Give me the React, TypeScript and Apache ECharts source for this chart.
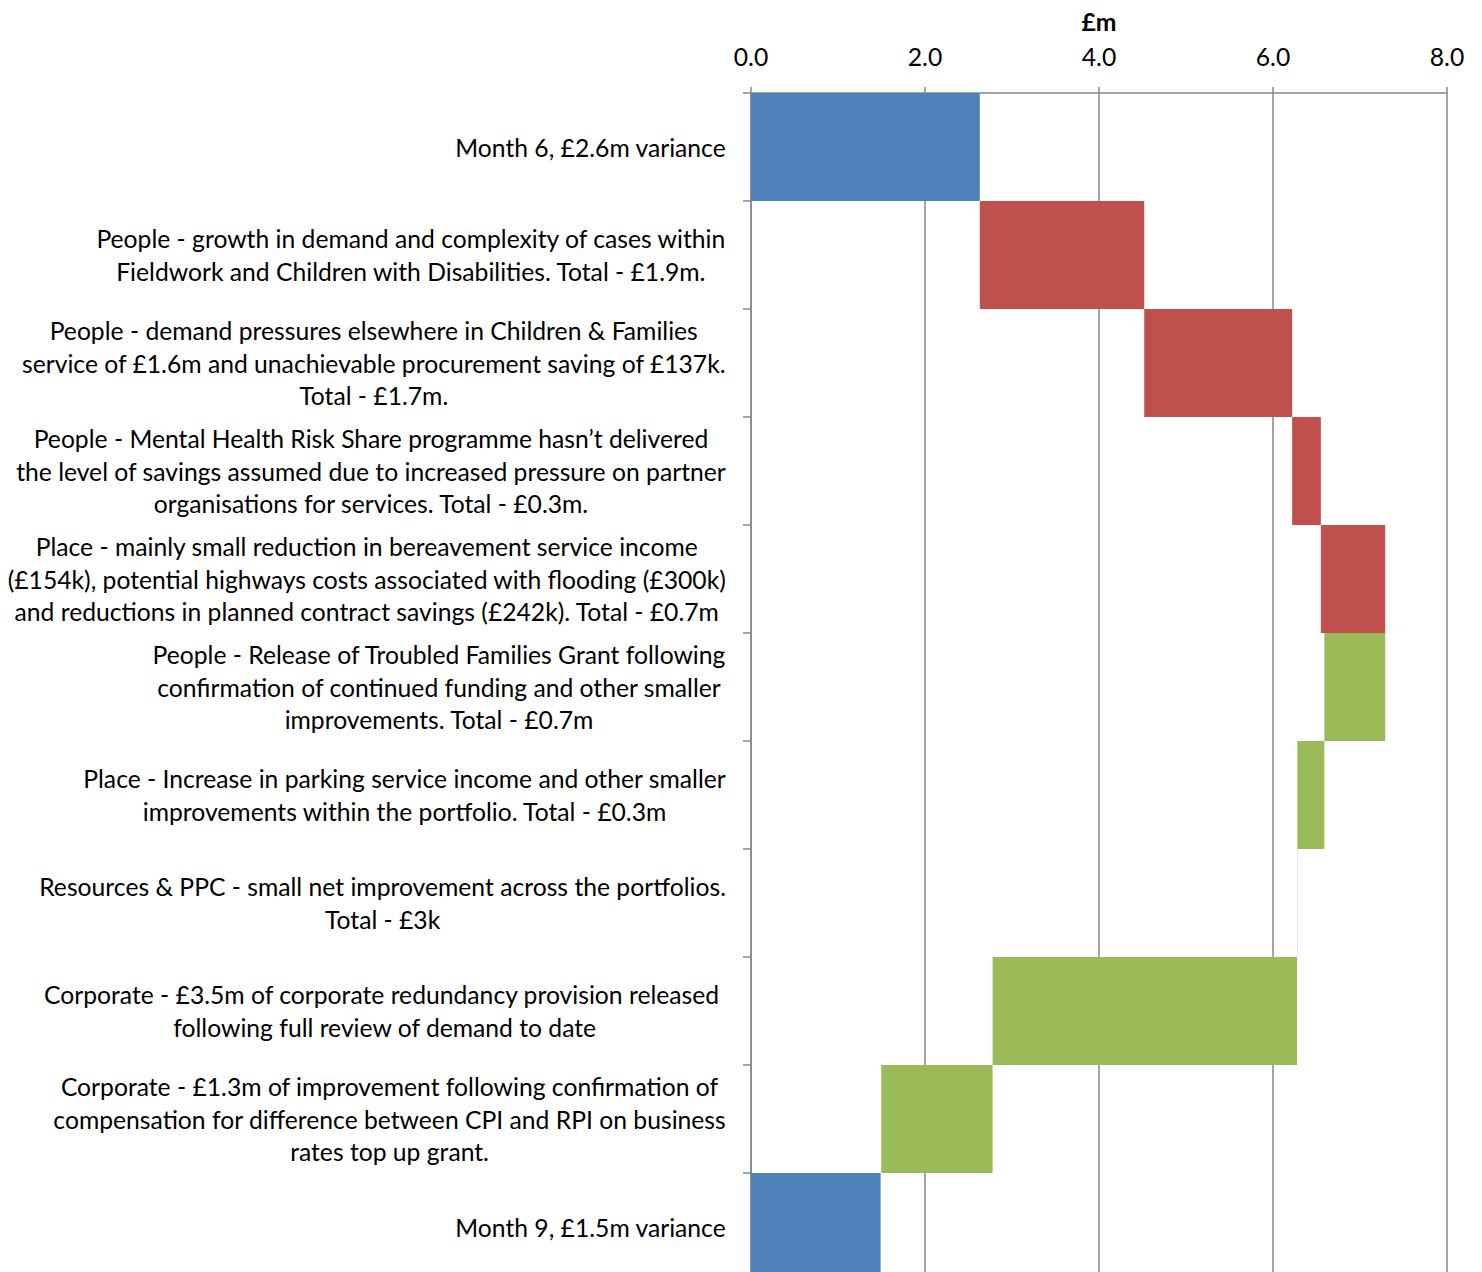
import { useEffect, useRef } from "react";
import * as echarts from "echarts";

// Budget variance bridge, Month 6 to Month 9 (£m)
const categories = [
  "Month 6, £2.6m variance",
  "People - growth in demand and complexity of cases within\nFieldwork and Children with Disabilities. Total - £1.9m.",
  "People - demand pressures elsewhere in Children & Families\nservice of £1.6m and unachievable procurement saving of £137k.\nTotal - £1.7m.",
  "People - Mental Health Risk Share programme hasn’t delivered\nthe level of savings assumed due to increased pressure on partner\norganisations for services. Total - £0.3m.",
  "Place - mainly small reduction in bereavement service income\n(£154k), potential highways costs associated with flooding (£300k)\nand reductions in planned contract savings (£242k). Total - £0.7m",
  "People - Release of Troubled Families Grant following\nconfirmation of continued funding and other smaller\nimprovements. Total - £0.7m",
  "Place - Increase in parking service income and other smaller\nimprovements within the portfolio. Total - £0.3m",
  "Resources & PPC - small net improvement across the portfolios.\nTotal - £3k",
  "Corporate - £3.5m of corporate redundancy provision released \nfollowing full review of demand to date",
  "Corporate - £1.3m of improvement following confirmation of\ncompensation for difference between CPI and RPI on business\nrates top up grant.",
  "Month 9, £1.5m variance",
];

const openingVariance = 2.63;
// pressures (positive) and improvements (negative), in category order
const movements = [1.89, 1.7, 0.33, 0.74, -0.7, -0.31, -0.003, -3.5, -1.28];
const closingVariance = 1.49;

const FONT = "Lato, 'Open Sans', sans-serif";
const FONT_SIZE = 24.7;
const AXIS_GREY = "#868686";

type Cell = number | "-";

function buildSeriesData() {
  const base: Cell[] = [];
  const total: Cell[] = [];
  const up: Cell[] = [];
  const down: Cell[] = [];

  base.push(0);
  total.push(openingVariance);
  up.push("-");
  down.push("-");

  let running = openingVariance;
  movements.forEach((m) => {
    const end = running + m;
    base.push(Math.min(running, end));
    total.push("-");
    if (m >= 0) {
      up.push(m);
      down.push("-");
    } else {
      up.push("-");
      down.push(-m);
    }
    running = end;
  });

  base.push(0);
  total.push(closingVariance);
  up.push("-");
  down.push("-");

  return { base, total, up, down };
}

export default function App() {
  const ref = useRef<HTMLDivElement | null>(null);

  useEffect(() => {
    if (!ref.current) return;
    const chart = echarts.init(ref.current, undefined, { renderer: "svg" });
    const { base, total, up, down } = buildSeriesData();

    const barCommon = {
      type: "bar" as const,
      stack: "bridge",
      barCategoryGap: "0%",
      silent: true,
    };

    chart.setOption({
      animation: false,
      backgroundColor: "#ffffff",
      grid: { left: 751, top: 93, width: 696, height: 1188, containLabel: false },
      xAxis: {
        type: "value",
        position: "top",
        min: 0,
        max: 8,
        interval: 2,
        name: "£m",
        nameLocation: "middle",
        nameGap: 57,
        nameTextStyle: {
          fontFamily: FONT,
          fontSize: FONT_SIZE,
          fontWeight: "bold",
          color: "#000",
          lineHeight: 30,
        },
        axisLine: { show: true, lineStyle: { color: AXIS_GREY, width: 1.5 } },
        axisTick: { show: true, length: 6, lineStyle: { color: AXIS_GREY, width: 1.5 } },
        axisLabel: {
          formatter: (v: number) => v.toFixed(1),
          fontFamily: FONT,
          fontSize: FONT_SIZE,
          color: "#000",
          lineHeight: 30,
          margin: 22,
        },
        splitLine: { show: true, lineStyle: { color: AXIS_GREY, width: 1.5 } },
      },
      yAxis: {
        type: "category",
        inverse: true,
        data: categories,
        axisLine: { show: true, lineStyle: { color: AXIS_GREY, width: 1.5 } },
        axisTick: { show: true, length: 8, lineStyle: { color: AXIS_GREY, width: 1.5 } },
        axisLabel: {
          interval: 0,
          margin: 25,
          align: "right",
          formatter: (v: string) =>
            v
              .split("\n")
              .map((line) => `{c|${line}}`)
              .join("\n"),
          rich: {
            c: {
              align: "center",
              fontFamily: FONT,
              fontSize: FONT_SIZE,
              lineHeight: 32.5,
              color: "#000",
            },
          },
        },
        splitLine: { show: false },
      },
      series: [
        { ...barCommon, name: "base", data: base, itemStyle: { color: "rgba(0,0,0,0)" } },
        { ...barCommon, name: "variance", data: total, itemStyle: { color: "#4F81BD" } },
        { ...barCommon, name: "pressure", data: up, itemStyle: { color: "#C0504D" } },
        { ...barCommon, name: "improvement", data: down, itemStyle: { color: "#9BBB59" } },
      ],
    });

    return () => chart.dispose();
  }, []);

  // The plot runs past the bottom edge, so the chart canvas is taller than the visible frame.
  return (
    <div
      style={{
        position: "absolute",
        left: 0,
        top: 0,
        width: 1482,
        height: 1272,
        overflow: "hidden",
        background: "#fff",
      }}
    >
      <div ref={ref} style={{ width: 1482, height: 1300 }} />
    </div>
  );
}
